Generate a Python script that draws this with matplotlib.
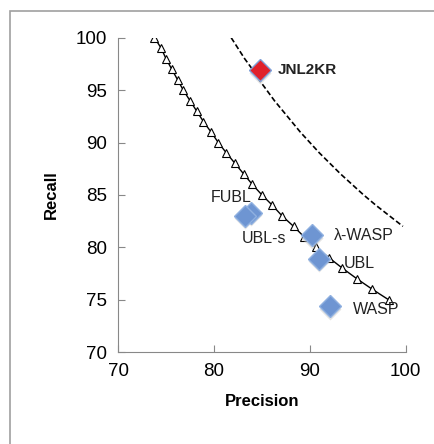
import matplotlib.pyplot as plt
from matplotlib.patches import Rectangle

plt.rcParams['font.family'] = ['Liberation Sans', 'DejaVu Sans']

# iso-F curve with triangle markers (F ~ 85)
recall_f85 = [100, 99, 98, 97, 96, 95, 94, 93, 92, 91, 90, 89, 88, 87, 86,
              85, 84, 83, 82, 81, 80, 79, 78, 77, 76, 75]
prec_f85 = [73.8, 74.5, 75.0, 75.6, 76.2, 76.8, 77.5, 78.2, 78.9, 79.7, 80.45,
            81.3, 82.2, 83.1, 84.0, 85.0, 86.1, 87.1, 88.3, 89.4, 90.6, 92.0,
            93.4, 94.9, 96.5, 98.2]

# dashed curve (F ~ 90)
recall_f90 = [100, 99, 98, 97, 96, 95, 94, 93, 92, 91, 90, 89, 88, 87, 86,
              85, 84, 83, 82]
prec_f90 = [81.8, 82.5, 83.2, 84.0, 84.7, 85.5, 86.3, 87.2, 88.1, 89.0, 90.0,
            91.0, 92.1, 93.2, 94.4, 95.6, 96.9, 98.3, 99.7]

# systems
systems = ['FUBL', 'UBL-s', 'λ-WASP', 'UBL', 'WASP']
sys_prec = [83.9, 83.2, 90.2, 91.0, 92.1]
sys_recall = [83.3, 83.0, 81.15, 78.9, 74.4]
ours_prec = 84.8
ours_recall = 96.9

# label anchors (precision, recall)
label_pos = {'FUBL': (81.8, 84.75, 'center'), 'UBL-s': (85.2, 80.8, 'center'),
             'λ-WASP': (92.5, 81.15, 'left'), 'UBL': (93.5, 78.5, 'left'),
             'WASP': (94.5, 74.1, 'left')}

fig = plt.figure(figsize=(4.34, 4.44), dpi=100)
fig.patches.append(Rectangle((10 / 434, -0.1), 1.1, 1 - 11 / 444 + 0.1,
                             transform=fig.transFigure, fill=False,
                             edgecolor='#a0a0a0', linewidth=1.2))
ax = fig.add_axes([0.272, 0.207, 0.663, 0.708])

ax.plot(prec_f85, recall_f85, color='black', lw=1, marker='^', ms=5.5,
        mfc='white', mec='black', mew=0.8, zorder=2)
ax.plot(prec_f90, recall_f90, color='black', lw=1.2, ls=(0, (3.2, 1.6)), zorder=2)

# shadow + diamonds
ax.plot(sys_prec, [r - 0.25 for r in sys_recall], 'D', ms=11, color='#c8c8c8',
        alpha=0.5, mec='none', zorder=3)
ax.plot(sys_prec, sys_recall, 'D', ms=11, mfc='#6e95d2', mec='#8fb0e0',
        mew=1, ls='none', zorder=4)
ax.plot([ours_prec], [ours_recall - 0.25], 'D', ms=11, color='#c8c8c8',
        alpha=0.5, mec='none', zorder=3)
ax.plot([ours_prec], [ours_recall], 'D', ms=11, mfc='#e0212b', mec='#7fa0d8',
        mew=1, zorder=4)

for name in systems:
    x, y, ha = label_pos[name]
    ax.text(x, y, name, fontsize=11.5, ha=ha, va='center', color='#222222', zorder=5)
ax.text(86.7, ours_recall, 'JNL2KR', fontsize=11, fontweight='bold',
        ha='left', va='center', color='#222222', zorder=5)

ax.set_xlim(70, 100)
ax.set_ylim(70, 100)
ax.set_xticks([70, 80, 90, 100])
ax.set_yticks([70, 75, 80, 85, 90, 95, 100])
ax.tick_params(direction='in', length=5, color='#888888', labelsize=13.5,
               pad=8)
for s in ['top', 'right']:
    ax.spines[s].set_visible(False)
for s in ['left', 'bottom']:
    ax.spines[s].set_color('#888888')
ax.set_xlabel('Precision', fontsize=12, fontweight='bold', labelpad=10)
ax.set_ylabel('Recall', fontsize=12, fontweight='bold', labelpad=12)

fig.savefig('out.png', dpi=100)
